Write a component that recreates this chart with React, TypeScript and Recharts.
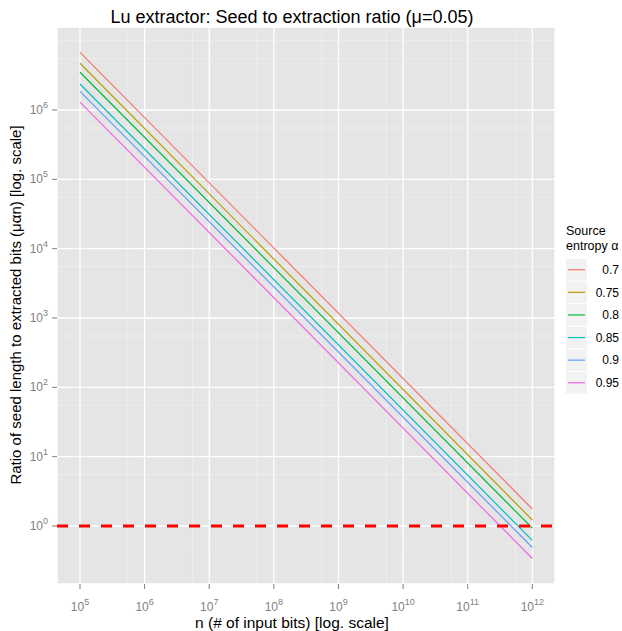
import React from 'react';
import { LineChart, Line, XAxis, YAxis, CartesianGrid, ReferenceLine } from 'recharts';

// n values (x) where each series starts and ends
const inputBits = [1e5, 1e12];

// ratio values, one pair per entropy level
const alpha070 = [6.79e6, 1.76];
const alpha075 = [4.72e6, 1.22];
const alpha080 = [3.5e6, 0.93];
const alpha085 = [2.37e6, 0.62];
const alpha090 = [1.86e6, 0.49];
const alpha095 = [1.3e6, 0.34];

const seriesNames = ['0.7', '0.75', '0.8', '0.85', '0.9', '0.95'];
const seriesValues = [alpha070, alpha075, alpha080, alpha085, alpha090, alpha095];
const seriesColors = ['#F8766D', '#B79F00', '#00BA38', '#00BFC4', '#619CFF', '#F564E3'];

const xTicks = [1e5, 1e6, 1e7, 1e8, 1e9, 1e10, 1e11, 1e12];
const yTicks = [1, 10, 100, 1e3, 1e4, 1e5, 1e6];
const xMinor = [5.5e5, 5.5e6, 5.5e7, 5.5e8, 5.5e9, 5.5e10, 5.5e11];
const yMinor = [0.55, 5.5, 55, 550, 5.5e3, 5.5e4, 5.5e5, 5.5e6, 1e7];

const xDomain = [44060, 2.244e12];
const yDomain = [0.1456, 1.574e7];

const data = inputBits.map((n, i) => {
  const row: Record<string, number> = { n };
  seriesNames.forEach((name, s) => {
    row['a' + name] = seriesValues[s][i];
  });
  return row;
});

const tickGrey = '#7F7F7F';
const font = '"Liberation Sans", Arial, sans-serif';

const XPowerTick = (props: any) => {
  const { x, y, payload } = props;
  const exp = Math.round(Math.log10(payload.value));
  return (
    <text x={x} y={y + 20} textAnchor="middle" fill={tickGrey} fontSize={12} fontFamily={font}>
      <tspan>10</tspan>
      <tspan dy={-6} fontSize={9}>{exp}</tspan>
    </text>
  );
};

const YPowerTick = (props: any) => {
  const { x, y, payload } = props;
  const exp = Math.round(Math.log10(payload.value));
  return (
    <text x={x} y={y + 4} textAnchor="end" fill={tickGrey} fontSize={12} fontFamily={font}>
      <tspan>10</tspan>
      <tspan dy={-6} fontSize={9}>{exp}</tspan>
    </text>
  );
};

export default function App() {
  return (
    <div style={{ position: 'absolute', left: 0, top: 0, width: 622, height: 631, background: '#fff', fontFamily: font }}>
      <LineChart
        width={622}
        height={631}
        data={data}
        margin={{ top: 27, right: 67, left: 0, bottom: 0 }}
      >
        <CartesianGrid fill="#E5E5E5" horizontal={false} vertical={false} stroke="none" />
        {xMinor.map((v) => (
          <ReferenceLine key={'xm' + v} x={v} stroke="#F2F2F2" strokeWidth={0.7} ifOverflow="hidden" />
        ))}
        {yMinor.map((v) => (
          <ReferenceLine key={'ym' + v} y={v} stroke="#F2F2F2" strokeWidth={0.7} ifOverflow="hidden" />
        ))}
        <CartesianGrid stroke="#FFFFFF" strokeWidth={1.3} />
        <XAxis
          dataKey="n"
          type="number"
          scale="log"
          domain={xDomain}
          ticks={xTicks}
          allowDataOverflow
          height={47}
          axisLine={false}
          tickLine={{ stroke: tickGrey, strokeWidth: 1 }}
          tickSize={5}
          tickMargin={2}
          tick={<XPowerTick />}
          interval={0}
        />
        <YAxis
          type="number"
          scale="log"
          domain={yDomain}
          ticks={yTicks}
          allowDataOverflow
          width={57}
          axisLine={false}
          tickLine={{ stroke: tickGrey, strokeWidth: 1 }}
          tickSize={5}
          tickMargin={4}
          tick={<YPowerTick />}
          interval={0}
        />
        {seriesNames.map((name, s) => (
          <Line
            key={name}
            dataKey={'a' + name}
            type="linear"
            stroke={seriesColors[s]}
            strokeWidth={1.2}
            dot={false}
            isAnimationActive={false}
          />
        ))}
        <ReferenceLine y={1} stroke="#FF0000" strokeWidth={3} strokeDasharray="11 11" />
      </LineChart>

      <svg width={622} height={631} style={{ position: 'absolute', left: 0, top: 0, pointerEvents: 'none' }}>
        <text x={292} y={22.5} textAnchor="middle" fontSize={18} fill="#000" fontFamily={font}>
          Lu extractor: Seed to extraction ratio (μ=0.05)
        </text>
        <text x={292} y={628} textAnchor="middle" fontSize={15.5} fill="#000" fontFamily={font}>
          n (# of input bits) [log. scale]
        </text>
        <text
          x={0}
          y={0}
          transform="translate(20.5,305) rotate(-90)"
          textAnchor="middle"
          fontSize={15}
          fill="#000"
          fontFamily={font}
        >
          Ratio of seed length to extracted bits (μαn) [log. scale]
        </text>
        <text x={566} y={235} fontSize={12.5} fill="#000" fontFamily={font}>Source</text>
        <text x={566} y={250} fontSize={12.5} fill="#000" fontFamily={font}>entropy α</text>
        {seriesNames.map((name, s) => {
          const top = 259 + s * 22.6;
          return (
            <g key={name}>
              <rect x={566} y={top} width={21} height={21.5} fill="#F2F2F2" />
              <line x1={568} x2={585} y1={top + 10.75} y2={top + 10.75} stroke={seriesColors[s]} strokeWidth={1.2} />
              <text x={619} y={top + 15} textAnchor="end" fontSize={12} fill="#000" fontFamily={font}>
                {name}
              </text>
            </g>
          );
        })}
      </svg>
    </div>
  );
}
